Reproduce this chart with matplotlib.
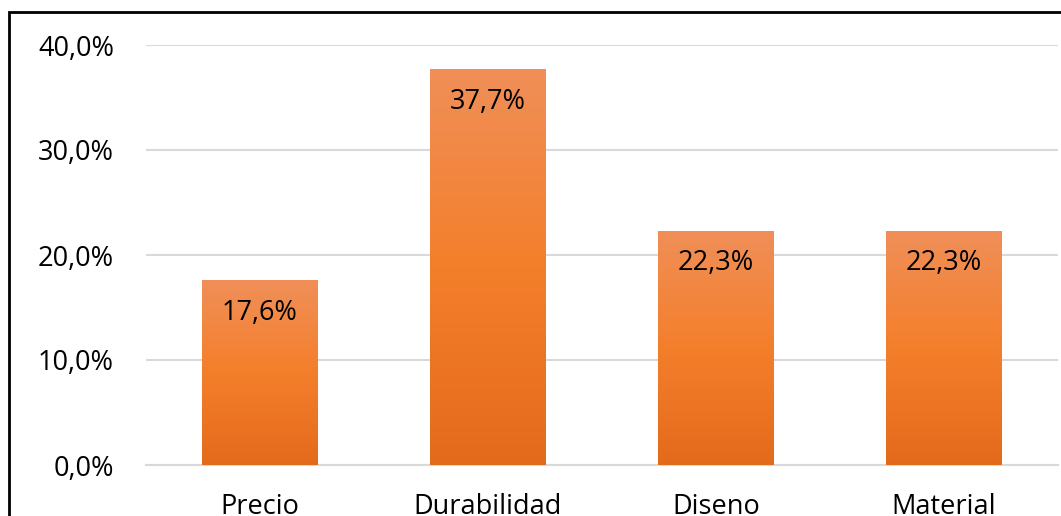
import numpy as np
import matplotlib.pyplot as plt
from matplotlib.patches import Rectangle
from matplotlib.colors import LinearSegmentedColormap

# Datos
categorias = ['Precio', 'Durabilidad', 'Diseno', 'Material']
valores = [17.6, 37.7, 22.3, 22.3]
etiquetas_y = ['0,0%', '10,0%', '20,0%', '30,0%', '40,0%']

plt.rcParams['font.family'] = ['Open Sans', 'DejaVu Sans']

fig = plt.figure(figsize=(10.61, 5.16), dpi=100)
W, H = 1061, 516
ax = fig.add_axes([146 / W, 1 - 465 / H, (1058 - 146) / W, (465 - 45) / H])

x = np.arange(len(categorias))
barras = ax.bar(x, valores, width=0.505, color='#F07E2A', zorder=2)

# degradado naranja en cada barra
cmap = LinearSegmentedColormap.from_list('naranja', ['#E46A1B', '#F47F2B', '#F08F58'])
grad = np.linspace(0, 1, 256).reshape(-1, 1)
for b in barras:
    x0, y0 = b.get_x(), b.get_y()
    w, h = b.get_width(), b.get_height()
    im = ax.imshow(grad, cmap=cmap, origin='lower', aspect='auto',
                   extent=[x0, x0 + w, y0, y0 + h], zorder=3)
    im.set_clip_path(b)

for xi, v in zip(x, valores):
    ax.text(xi, v - 3.1, f'{v:.1f}%'.replace('.', ','), ha='center', va='center',
            fontsize=19.5, color='black', zorder=4)

ax.set_xlim(-0.5, len(categorias) - 0.5)
ax.set_ylim(0, 40)
ax.set_yticks([0, 10, 20, 30, 40])
ax.set_yticklabels(etiquetas_y, fontsize=19.5)
ax.set_xticks(x)
ax.set_xticklabels(categorias, fontsize=19.5)
ax.tick_params(axis='both', length=0)
ax.tick_params(axis='y', pad=23)
ax.tick_params(axis='x', pad=20)
ax.grid(axis='y', color='#D9D9D9', linewidth=1.5, zorder=0)
for s in ['top', 'right', 'left']:
    ax.spines[s].set_visible(False)
ax.spines['bottom'].set_color('#D9D9D9')
ax.spines['bottom'].set_linewidth(1.5)
ax.set_axisbelow(True)

# marco del gráfico
fig.patches.append(Rectangle((9 / W, -0.1), 1.2, 1 - 12 / H + 0.1, transform=fig.transFigure,
                             fill=False, edgecolor='black', linewidth=2))

fig.savefig('out.png', dpi=100)
